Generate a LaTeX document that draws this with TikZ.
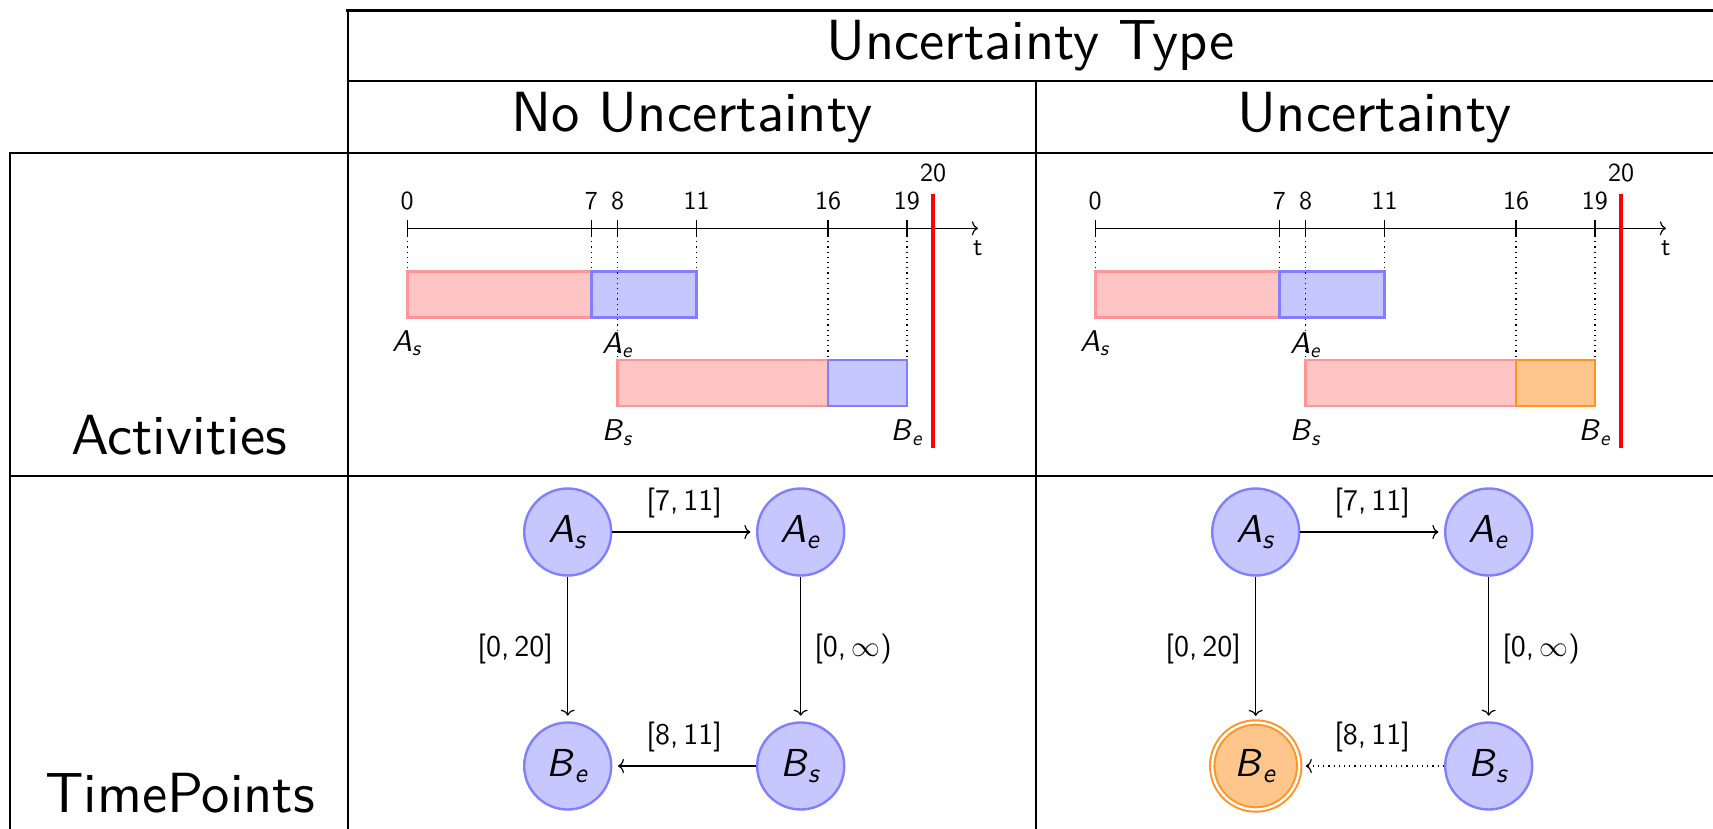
\documentclass[tikz,border=0pt]{standalone}
\usepackage{fontspec}
\setsansfont{lmsans10-regular.otf}[ItalicFont=lmsans10-oblique.otf]
\usetikzlibrary{arrows.meta}
\newcommand\tpt[2]{\textit{#1}\textsubscript{\textit{#2}}}
\newcommand\drawtimeline[3]{%
\begin{scope}[xshift=#1, x=13.15pt]
  \draw[timeaxis] (0,228.3) -- (21.7,228.3);
  \node[ticklab, anchor=center] (#3t) at (21.7,248) {t};
  \foreach \v in {0,7,8,11,16,19}{
    \draw[tickmark] (\v,220) -- (\v,236);
    \node[ticklab] (#3l\v) at (\v,209) {\v};
  }
  \node[ticklab] (#3l20) at (20,181.5) {20};
  \draw[pinkbar] (0,271.7) rectangle (7,317.7);
  \draw[bluebar] (7,271.7) rectangle (11,317.7);
  \draw[pinkbar] (8,360) rectangle (16,406);
  \draw[#2] (16,360) rectangle (19,406);
  \foreach \v in {0,7,11}{\draw[guide] (\v,236) -- (\v,271.7);}
  \foreach \v in {8,16,19}{\draw[guide] (\v,236) -- (\v,360);}
  \draw[deadline] (20,194.3) -- (20,448.3);
  \node[evlab] (#3As) at (0,343) {\tpt{A}{s}};
  \node[evlab] (#3Ae) at (8,345) {\tpt{A}{e}};
  \node[evlab] (#3Bs) at (8,432.7) {\tpt{B}{s}};
  \node[evlab] (#3Be) at (19,432.7) {\tpt{B}{e}};
\end{scope}}
\begin{document}
\begin{tikzpicture}[x=0.5pt,y=-0.5pt,
  thickrule/.style={line width=1.4pt, line cap=rect},
  thinrule/.style={line width=1pt, line cap=rect},
  hdr/.style={font=\sffamily\fontsize{28.3}{34}\selectfont, inner sep=0pt, anchor=base},
  ticklab/.style={font=\sffamily\fontsize{13}{15}\selectfont, inner sep=0pt, anchor=base},
  evlab/.style={font=\sffamily\fontsize{15}{17}\selectfont, inner sep=0pt},
  tpnode/.style={circle, minimum size=43.5pt, inner sep=0pt, fill=blue!22, draw=blue!50, line width=1.2pt, font=\sffamily\fontsize{19.5}{22}\selectfont},
  unode/.style={tpnode, fill=orange!45, draw=orange!85, double=white, double distance=1.2pt, line width=1pt},
  tparrow/.style={line width=0.6pt, -{To[length=3pt,width=7pt]}, shorten >=2.8pt},
  elab/.style={font=\sffamily\fontsize{15}{17}\selectfont, inner sep=0pt},
  pinkbar/.style={fill=red!23, draw=red!41, line width=1.3pt},
  bluebar/.style={fill=blue!22, draw=blue!50, line width=1.3pt},
  orangebar/.style={fill=orange!45, draw=orange!85, line width=1.3pt},
  deadline/.style={red, line width=2pt},
  guide/.style={dotted, line width=0.6pt},
  tickmark/.style={line width=0.6pt},
  timeaxis/.style={line width=0.6pt, -{To[length=3pt,width=7pt]}},
]
\useasboundingbox (0,0) rectangle (1713,829);
% table rules
\draw[thickrule] (347.7,10.7) -- (1713,10.7);
\draw[thinrule] (347.7,81) -- (1713,81);
\draw[thickrule] (10,153) -- (1713,153);
\draw[thinrule] (10,476) -- (1713,476);
\draw[thinrule] (347.7,10.7) -- (347.7,829);
\draw[thinrule] (1036,81) -- (1036,829);
\draw[thinrule] (10,153) -- (10,829);
% headers
\node[hdr] (hType) at (1030.4,60) {Uncertainty Type};
\node[hdr] (hNo) at (691.9,131.7) {No Uncertainty};
\node[hdr] (hUnc) at (1374.5,131.7) {Uncertainty};
\node[hdr] (rAct) at (179,454) {Activities};
\node[hdr] (rTP) at (180,812.3) {TimePoints};
% timelines
\drawtimeline{203.6pt}{bluebar}{L}
\drawtimeline{547.6pt}{orangebar}{R}
% left graph
\node[tpnode] (LAs) at (567.7,532) {\tpt{A}{s}};
\node[tpnode] (LAe) at (800.7,532) {\tpt{A}{e}};
\node[tpnode] (LBe) at (567.7,766) {\tpt{B}{e}};
\node[tpnode] (LBs) at (800.7,766) {\tpt{B}{s}};
\draw[tparrow] (LAs) -- node[elab, above=6.5pt] (LlA) {[7,\,11]} (LAe);
\draw[tparrow] (LAs) -- node[elab, left=7pt] (LlB) {[0,\,20]} (LBe);
\draw[tparrow] (LAe) -- node[elab, right=6.5pt] (LlC) {[0,\,$\infty$)} (LBs);
\draw[tparrow] (LBs) -- node[elab, above=6.5pt] (LlD) {[8,\,11]} (LBe);
% right graph
\node[tpnode] (RAs) at (1255.7,532) {\tpt{A}{s}};
\node[tpnode] (RAe) at (1488.7,532) {\tpt{A}{e}};
\node[unode] (RBe) at (1255.7,766) {\tpt{B}{e}};
\node[tpnode] (RBs) at (1488.7,766) {\tpt{B}{s}};
\draw[tparrow] (RAs) -- node[elab, above=6.5pt] (RlA) {[7,\,11]} (RAe);
\draw[tparrow] (RAs) -- node[elab, left=7pt] (RlB) {[0,\,20]} (RBe);
\draw[tparrow] (RAe) -- node[elab, right=6.5pt] (RlC) {[0,\,$\infty$)} (RBs);
\draw[tparrow, dotted] (RBs) -- node[elab, above=6.5pt] (RlD) {[8,\,11]} (RBe);
\end{tikzpicture}
\end{document}
